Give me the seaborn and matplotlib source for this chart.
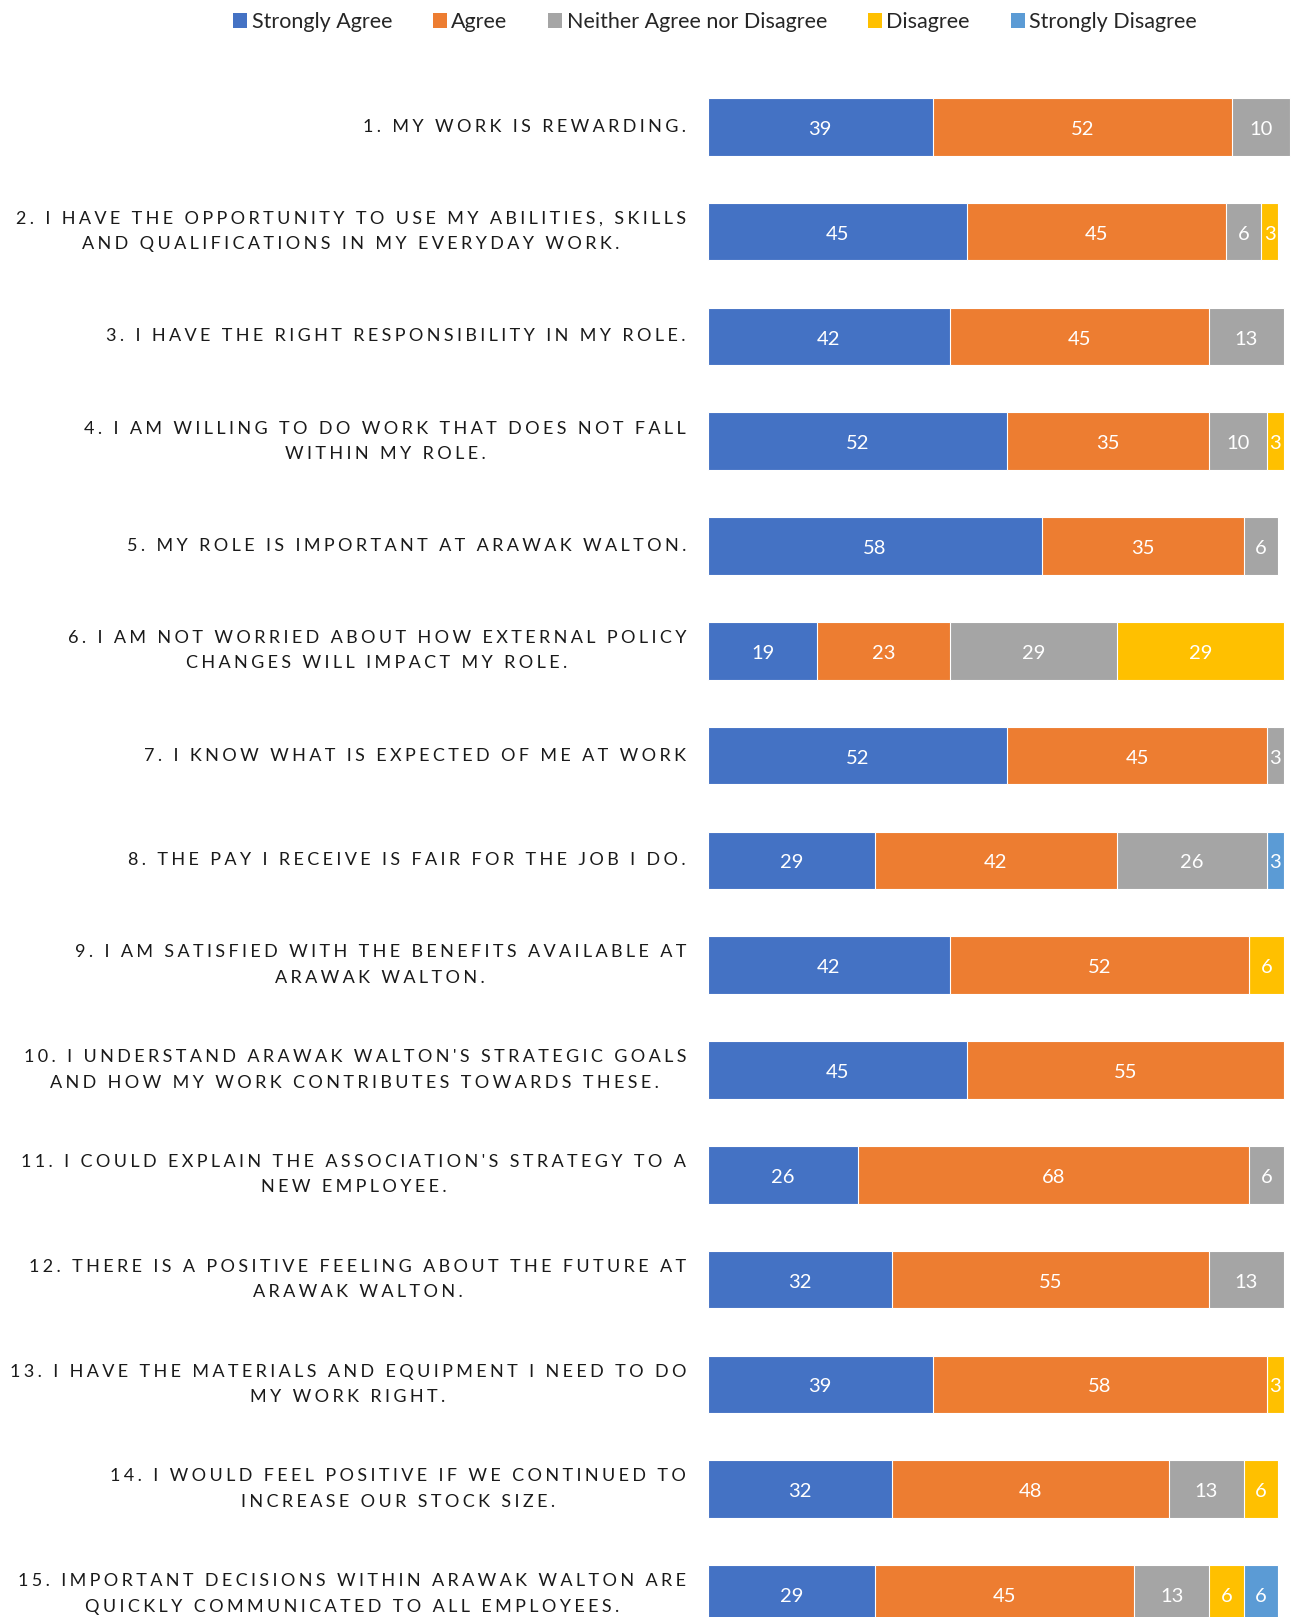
import numpy as np
import pandas as pd
import matplotlib
matplotlib.use("Agg")
import matplotlib.pyplot as plt
import matplotlib.transforms as mtransforms
import seaborn as sns
from matplotlib.patches import Patch

questions = [
    "1. MY WORK IS REWARDING.",
    "2. I HAVE THE OPPORTUNITY TO USE MY ABILITIES, SKILLS\nAND QUALIFICATIONS IN MY EVERYDAY WORK.",
    "3. I HAVE THE RIGHT RESPONSIBILITY IN MY ROLE.",
    "4. I AM WILLING TO DO WORK THAT DOES NOT FALL\nWITHIN MY ROLE.",
    "5. MY ROLE IS IMPORTANT AT ARAWAK WALTON.",
    "6. I AM NOT WORRIED ABOUT HOW EXTERNAL POLICY\nCHANGES WILL IMPACT MY ROLE.",
    "7. I KNOW WHAT IS EXPECTED OF ME AT WORK",
    "8. THE PAY I RECEIVE IS FAIR FOR THE JOB I DO.",
    "9. I AM SATISFIED WITH THE BENEFITS AVAILABLE AT\nARAWAK WALTON.",
    "10. I UNDERSTAND ARAWAK WALTON'S STRATEGIC GOALS\nAND HOW MY WORK CONTRIBUTES TOWARDS THESE.",
    "11. I COULD EXPLAIN THE ASSOCIATION'S STRATEGY TO A\nNEW EMPLOYEE.",
    "12. THERE IS A POSITIVE FEELING ABOUT THE FUTURE AT\nARAWAK WALTON.",
    "13. I HAVE THE MATERIALS AND EQUIPMENT I NEED TO DO\nMY WORK RIGHT.",
    "14. I WOULD FEEL POSITIVE IF WE CONTINUED TO\nINCREASE OUR STOCK SIZE.",
    "15. IMPORTANT DECISIONS WITHIN ARAWAK WALTON ARE\nQUICKLY COMMUNICATED TO ALL EMPLOYEES.",
]

categories = ["Strongly Agree", "Agree", "Neither Agree nor Disagree",
              "Disagree", "Strongly Disagree"]

strongly_agree    = [39, 45, 42, 52, 58, 19, 52, 29, 42, 45, 26, 32, 39, 32, 29]
agree             = [52, 45, 45, 35, 35, 23, 45, 42, 52, 55, 68, 55, 58, 48, 45]
neither           = [10, 6, 13, 10, 6, 29, 3, 26, 0, 0, 6, 13, 0, 13, 13]
disagree          = [0, 3, 0, 3, 0, 29, 0, 0, 6, 0, 0, 0, 3, 6, 6]
strongly_disagree = [0, 0, 0, 0, 0, 0, 0, 3, 0, 0, 0, 0, 0, 0, 6]

colors = ["#4472C4", "#ED7D31", "#A5A5A5", "#FFC000", "#5B9BD5"]

series = [strongly_agree, agree, neither, disagree, strongly_disagree]

LABEL_FS = 13


def spaced(s, sp):
    return "\n".join(sp.join(line) for line in s.split("\n"))


keys = [f"q{i}" for i in range(len(questions))]

df = pd.DataFrame({"q": keys})
for cat, vals in zip(categories, series):
    df[cat] = vals
cum = df[categories].cumsum(axis=1)

sns.set_theme(style="white")
plt.rcParams["font.family"] = ["Lato", "DejaVu Sans"]

W, H = 1296, 1617
fig = plt.figure(figsize=(W / 100, H / 100), dpi=100)
ax = fig.add_axes([708 / W, 0, (W - 708) / W, 1])

# choose letter spacing so the widest line matches the reference tracking
renderer = fig.canvas.get_renderer()
probe_line = "2. I HAVE THE OPPORTUNITY TO USE MY ABILITIES, SKILLS"
target = 665.0
best_sp, best_err = "\u2009", 1e9
for sp in ["\u2009", "\u2009\u200a", "\u2005", "\u2009\u2009", "\u2004",
           " ", "\u200a", "\u200a\u200a"]:
    t = fig.text(0, 0, sp.join(probe_line), fontsize=LABEL_FS)
    w = t.get_window_extent(renderer).width
    t.remove()
    if abs(w - target) < best_err:
        best_err, best_sp = abs(w - target), sp

ylabels = [spaced(q, best_sp) for q in questions]

# stacked bars: draw cumulative totals from the last category backwards
for k in range(len(categories) - 1, -1, -1):
    sns.barplot(x=cum[categories[k]], y=df["q"], orient="h", ax=ax,
                color=colors[k], width=0.55, edgecolor="white",
                linewidth=0.8, saturation=1, order=keys)

# centred value labels
for i in range(len(keys)):
    left = 0
    for k, cat in enumerate(categories):
        v = df.loc[i, cat]
        if v > 0:
            ax.text(left + v / 2, i + 0.025, f"{v}", ha="center", va="center",
                    color="white", fontsize=14.5)
        left += v

ax.set_xlim(0, 102.1)
ax.set_ylim(14.22, -1.21)
ax.set_xlabel("")
ax.set_ylabel("")
ax.set_xticks([])
ax.set_yticks(range(len(keys)))
ax.set_yticklabels([""] * len(keys))
ax.tick_params(axis="y", length=0)
for s in ax.spines.values():
    s.set_visible(False)

blend = mtransforms.blended_transform_factory(ax.transAxes, ax.transData)
for i, lab in enumerate(ylabels):
    ax.text(-22 / 588, i, lab, transform=blend, ha="right", va="center",
            multialignment="center", fontsize=LABEL_FS, color="#1a1a1a",
            linespacing=1.72)

handles = [Patch(facecolor=c, edgecolor="none") for c in colors]
fig.legend(handles, categories, loc="center", ncol=5,
           bbox_to_anchor=(715 / W, 1 - 22 / H), frameon=False,
           fontsize=15.5, handlelength=0.65, handleheight=0.65,
           handletextpad=0.2, columnspacing=1.9)

fig.savefig("out.png", dpi=100)
